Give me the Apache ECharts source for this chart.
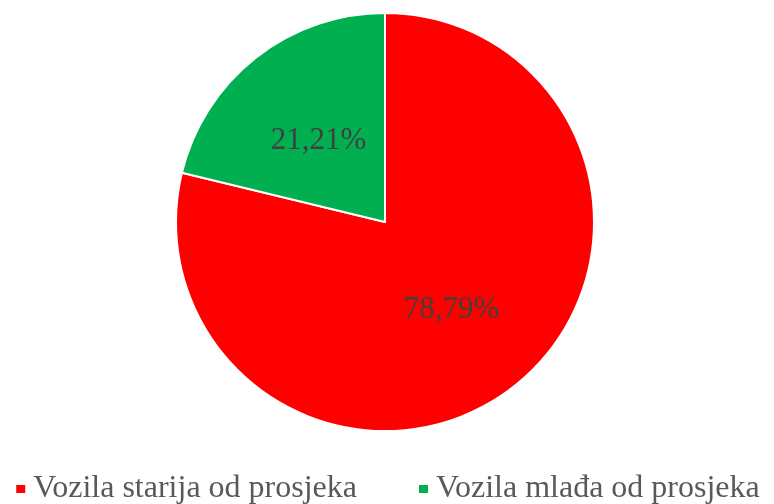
<!DOCTYPE html>
<html>
<head>
<meta charset="utf-8">
<script src="https://cdn.jsdelivr.net/npm/echarts@6/dist/echarts.min.js"></script>
<style>
html, body { margin: 0; padding: 0; background: #fff; }
#main { width: 774px; height: 504px; }
</style>
</head>
<body>
<div id="main"></div>
<script>
var categories = ['Vozila starija od prosjeka', 'Vozila mlađa od prosjeka'];
var shares = [78.79, 21.21];
var colors = ['#FF0000', '#00B050'];

var myChart = echarts.init(document.getElementById('main'));

var pieData = [];
for (var i = 0; i < categories.length; i++) {
    pieData.push({
        name: categories[i],
        value: shares[i],
        itemStyle: { color: colors[i] }
    });
}

var option = {
    animation: false,
    legend: {
        top: 468,
        left: 'center',
        itemWidth: 11,
        itemHeight: 10,
        itemGap: 60,
        icon: 'rect',
        textStyle: {
            fontFamily: 'Liberation Serif',
            fontSize: 32,
            color: '#595959',
            padding: [0, 0, 0, 2]
        },
        data: categories
    },
    series: [{
        type: 'pie',
        center: [385, 222],
        radius: 209,
        startAngle: 90,
        clockwise: true,
        itemStyle: {
            borderColor: '#ffffff',
            borderWidth: 2
        },
        label: {
            show: true,
            position: 'inside',
            fontFamily: 'Liberation Serif',
            fontSize: 31,
            color: '#404040',
            offset: [0, 3],
            formatter: function (p) {
                return p.value.toFixed(2).replace('.', ',') + '%';
            }
        },
        labelLine: { show: false },
        data: pieData
    }]
};

myChart.setOption(option);
</script>
</body>
</html>
